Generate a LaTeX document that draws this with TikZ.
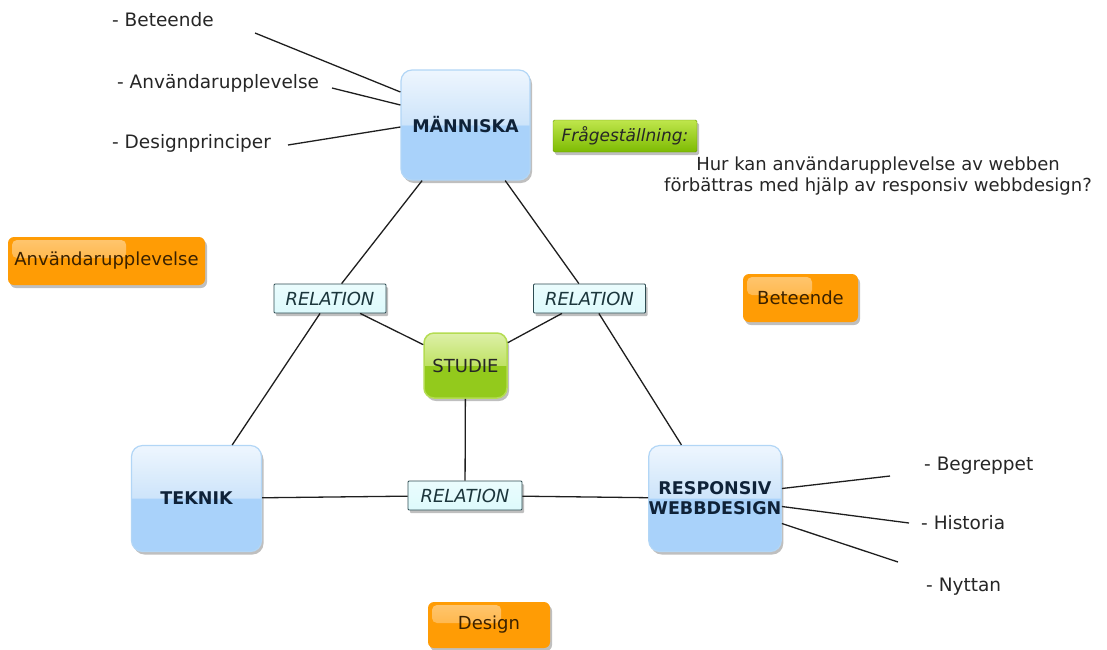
\documentclass[tikz,border=0pt]{standalone}
\usepackage{fontspec}
\setmainfont{DejaVu Sans}
\usetikzlibrary{shadows,calc}
\definecolor{btopt}{HTML}{EEF6FE}
\definecolor{btopb}{HTML}{CDE4FA}
\definecolor{bbot}{HTML}{A9D2FA}
\definecolor{bluebd}{HTML}{B2D6F6}
\definecolor{navytext}{HTML}{0F2238}
\definecolor{gtopt}{HTML}{DDF0A8}
\definecolor{gtopb}{HTML}{BFE264}
\definecolor{gbot}{HTML}{93CA1C}
\definecolor{greenbd}{HTML}{B4DC52}
\definecolor{qtop}{HTML}{BFE64C}
\definecolor{qbot}{HTML}{7DBB02}
\definecolor{relfill}{HTML}{DDFAFC}
\definecolor{reldraw}{HTML}{2E4C52}
\definecolor{reltext}{HTML}{1C363C}
\definecolor{orangeF}{HTML}{FF9C05}
\definecolor{orangeHL}{HTML}{FFD9A0}
\definecolor{browntext}{HTML}{3A2100}
\definecolor{linecol}{HTML}{1E1E1E}
\pgfdeclareverticalshading{bluesh}{100bp}{color(0bp)=(bbot); color(25bp)=(bbot); color(50bp)=(bbot); color(50.2bp)=(btopb); color(75bp)=(btopt); color(100bp)=(btopt)}
\pgfdeclareverticalshading{greensh}{100bp}{color(0bp)=(gbot); color(25bp)=(gbot); color(50bp)=(gbot); color(50.2bp)=(gtopb); color(75bp)=(gtopt); color(100bp)=(gtopt)}
\tikzset{
  base/.style={inner sep=0pt, align=center},
  shad/.style={drop shadow={shadow xshift=2pt, shadow yshift=-3pt, opacity=0.25, fill=black}},
  bluebox/.style={base, shad, rounded corners=11pt, minimum width=130pt, minimum height=106pt,
    draw=bluebd, line width=1.2pt, shading=bluesh,
    font=\fontsize{17.5}{20}\selectfont\bfseries, text=navytext},
  studiebox/.style={base, shad, rounded corners=10pt, minimum width=83pt, minimum height=65pt,
    draw=greenbd, line width=1.5pt, shading=greensh,
    font=\fontsize{18}{20}\selectfont, text=black!85},
  relbox/.style={base, shad, minimum width=112pt, minimum height=29pt, rounded corners=1pt,
    draw=reldraw, line width=0.8pt, top color=relfill!60!white, bottom color=relfill,
    font=\fontsize{18}{20}\selectfont\itshape, text=reltext},
  orangebox/.style={base, shad, rounded corners=6pt, fill=orangeF, minimum height=48pt,
    font=\fontsize{18}{20}\selectfont, text=browntext,
    path picture={\fill[rounded corners=5pt, top color=orangeHL, bottom color=orangeF!70!orangeHL, fill opacity=0.7]
      ([shift={(4pt,-3pt)}]path picture bounding box.north west) rectangle
      ($(path picture bounding box.north west)!0.6!(path picture bounding box.north east)+(0pt,-21pt)$);}},
  qbox/.style={base, shad, rounded corners=1.5pt, top color=qtop, bottom color=qbot,
    draw=qbot!80!black, line width=0.4pt, minimum width=144pt, minimum height=32pt,
    font=\fontsize{17}{19}\selectfont\itshape, text=black!85},
  leaf/.style={base, anchor=west, font=\fontsize{18.5}{20}\selectfont, text=black!85},
  conn/.style={draw=linecol, line width=1.3pt},
}
\begin{document}
\begin{tikzpicture}[x=1pt, y=-1pt]
\useasboundingbox (0,0) rectangle (1107,649);
% main nodes
\node[bluebox, minimum width=129pt, minimum height=110pt] (M) at (465.5,125) {MÄNNISKA};
\node[bluebox] (T) at (196.5,498.5) {TEKNIK};
\node[bluebox] (RW) at (715,498.5) {RESPONSIV\\WEBBDESIGN};
\node[studiebox] (S) at (465.5,365.5) {\raisebox{-3pt}{STUDIE}};
\node[relbox] (R1) at (330,298.5) {RELATION};
\node[relbox] (R2) at (589.5,298.5) {RELATION};
\node[relbox, minimum width=114pt] (R3) at (465,495.5) {RELATION};
% question
\node[qbox] (Q) at (625,136) {Frågeställning:};
\node[base, font=\fontsize{18}{20.5}\selectfont, text=black!85] (QT) at (878,176)
  {Hur kan användarupplevelse av webben\\förbättras med hjälp av responsiv webbdesign?};
% orange tags
\node[orangebox, minimum width=197pt] (AU) at (106.5,261) {Användarupplevelse};
\node[orangebox, minimum width=115pt] (BT) at (800.5,298) {Beteende};
\node[orangebox, minimum width=122pt, minimum height=46pt] (DS) at (489,625) {Design};
% leaf texts
\node[leaf] (l1) at (112,20) {- Beteende};
\node[leaf] (l2) at (117,83) {- Användarupplevelse};
\node[leaf] (l3) at (112,143) {- Designprinciper};
\node[leaf] (r1) at (924,466) {- Begreppet};
\node[leaf] (r2) at (921,523) {- Historia};
\node[leaf] (r3) at (926,587) {- Nyttan};
% leaf line free ends
\coordinate (e1) at (255,33);
\coordinate (e2) at (332,88);
\coordinate (e3) at (288,145);
\coordinate (f1) at (890,476);
\coordinate (f2) at (909,523);
\coordinate (f3) at (898,562);
% connectors
\draw[conn] (M) -- (R1);
\draw[conn] (R1) -- (T);
\draw[conn] (M) -- (R2);
\draw[conn] (R2) -- (RW);
\draw[conn] (R1) -- (S);
\draw[conn] (R2) -- (S);
\draw[conn] (S) -- (R3);
\draw[conn] (T) -- (R3);
\draw[conn] (R3) -- (RW);
\draw[conn] (e1) -- ([yshift=33pt]M.west);
\draw[conn] (e2) -- ([yshift=20pt]M.west);
\draw[conn] (e3) -- ([yshift=-2pt]M.west);
\draw[conn] ([yshift=10pt]RW.east) -- (f1);
\draw[conn] ([yshift=-8pt]RW.east) -- (f2);
\draw[conn] ([yshift=-25pt]RW.east) -- (f3);
\end{tikzpicture}
\end{document}
